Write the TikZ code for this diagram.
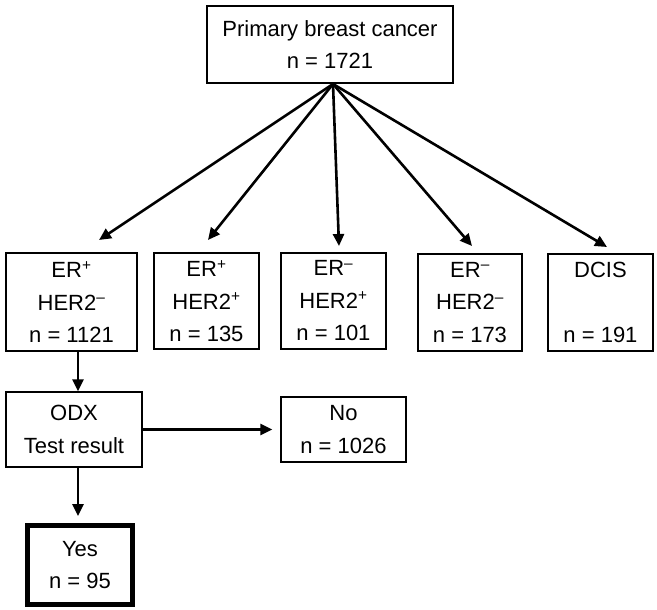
\documentclass[tikz,border=0pt]{standalone}
\usepackage{fontspec}
\setmainfont{Liberation Sans}
\usetikzlibrary{arrows.meta,calc}
\begin{document}
\begin{tikzpicture}[x=1pt,y=-1pt,
  box/.style={draw=black, line width=1.3pt, inner sep=0pt, align=center,
    font=\fontsize{22}{32.5}\selectfont},
  arr/.style={line width=2.6pt, -{Triangle[length=12pt,width=11pt]}}]
\useasboundingbox (0,0) rectangle (657,610);
\newcommand{\plus}{\textsuperscript{+}}
\newcommand{\mins}{\textsuperscript{–}}
% top
\node[box, minimum width=246pt, minimum height=77pt] (top) at (330,44.5)
  {Primary breast cancer\\n = 1721};
% row
\node[box, minimum width=131pt, minimum height=98pt] (b1) at (71.5,302)
  {ER\plus\\HER2\mins\\n = 1121};
\node[box, minimum width=105pt, minimum height=96pt] (b2) at (206.5,301)
  {ER\plus\\HER2\plus\\n = 135};
\node[box, minimum width=105pt, minimum height=96pt] (b3) at (333.5,301)
  {ER\mins\\HER2\plus\\n = 101};
\node[box, minimum width=104pt, minimum height=97pt] (b4) at (470,302.5)
  {ER\mins\\HER2\mins\\n = 173};
\node[box, minimum width=105pt, minimum height=97pt] (b5) at (600.5,302.5)
  {DCIS\\[32.5pt]n = 191};
% lower
\node[box, minimum width=136pt, minimum height=75pt] (odx) at (74,429.5)
  {ODX\\Test result};
\node[box, minimum width=125pt, minimum height=65pt] (no) at (343.5,429.5)
  {No\\n = 1026};
\node[box, line width=5pt, minimum width=105pt, minimum height=79pt] (yes) at (80,565)
  {Yes\\n = 95};
% connectors
\coordinate (apex) at (333,84);
\coordinate (t1) at (99,240);
\coordinate (t2) at (208,240);
\coordinate (t3) at (339,246);
\coordinate (t4) at (472,246);
\coordinate (t5) at (607,247);
\coordinate (vx) at (78,0);
\foreach \t in {t1,t2,t3,t4,t5} \draw[arr] (apex) -- (\t);
\draw[arr] (b1.south -| vx) -- (odx.north -| vx);
\draw[arr, shorten >=7pt] (odx.south -| vx) -- (yes.north -| vx);
\draw[arr, shorten >=8pt] (odx.east) -- (no.west);
\end{tikzpicture}
\end{document}
